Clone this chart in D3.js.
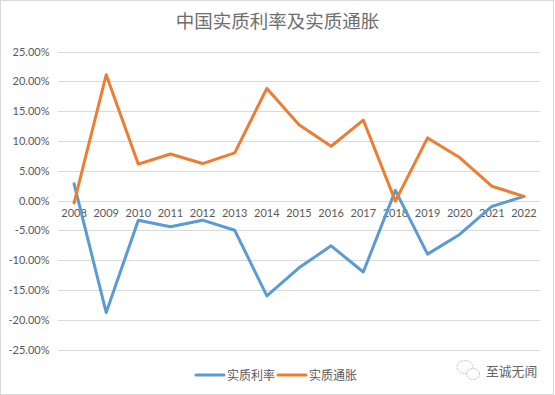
<!DOCTYPE html>
<html>
<head>
<meta charset="utf-8">
<script src="https://cdn.jsdelivr.net/npm/d3@7"></script>
<style>
  html, body { margin: 0; padding: 0; background: #fff; }
  svg { display: block; }
  text { font-family: "Noto Sans CJK SC", "Liberation Sans", sans-serif; }
  .tick-label { font-family: Lato, "Liberation Sans", sans-serif; }
</style>
</head>
<body>
<svg id="chart" width="555" height="395"></svg>
<script>
const years = ["2008", "2009", "2010", "2011", "2012", "2013", "2014", "2015", "2016", "2017", "2018", "2019", "2020", "2021", "2022"];
const realRate = [2.8, -18.8, -3.3, -4.4, -3.3, -5.0, -16.0, -11.3, -7.6, -12.0, 1.7, -9.0, -5.7, -1.0, 0.7];
const realInflation = [-0.4, 21.1, 6.1, 7.8, 6.2, 8.0, 18.8, 12.7, 9.1, 13.5, -0.1, 10.5, 7.2, 2.4, 0.7];
const yTicks = [25, 20, 15, 10, 5, 0, -5, -10, -15, -20, -25];
const seriesNames = ["实质利率", "实质通胀"];
const seriesColors = ["#5b9bd5", "#ed7d31"];

const svg = d3.select("#chart");
const width = +svg.attr("width");
const height = +svg.attr("height");

// Frame
svg.append("rect")
  .attr("x", 0.5).attr("y", 0.5)
  .attr("width", width - 2).attr("height", height - 1)
  .attr("fill", "#fff").attr("stroke", "#d9d9d9");

const xScale = d3.scaleBand().domain(years).range([58, 540]);
const yScale = d3.scaleLinear().domain([25, -25]).range([51.5, 349.5]);

// Title
svg.append("text")
  .attr("x", 277.5).attr("y", 28)
  .attr("text-anchor", "middle")
  .attr("font-size", 18.5)
  .attr("fill", "#6e6e6e")
  .text("中国实质利率及实质通胀");

// y-Axis (gridlines and labels)
const yAxis = d3.axisLeft(yScale)
  .tickValues(yTicks)
  .tickSize(-(540 - 58))
  .tickPadding(8.5)
  .tickFormat((d) => d.toFixed(2) + "%");
const yAxisG = svg.append("g").attr("transform", "translate(58,0)").call(yAxis);
yAxisG.select(".domain").remove();
yAxisG.selectAll("line")
  .attr("stroke", "#d9d9d9")
  .attr("stroke-width", 1)
  .attr("shape-rendering", "crispEdges");
yAxisG.selectAll("text")
  .attr("class", "tick-label")
  .attr("font-size", 11)
  .attr("fill", "#595959");

// x-Axis, labels sit just under the zero line
const xAxis = d3.axisBottom(xScale).tickSize(0).tickPadding(9);
const xAxisG = svg.append("g").attr("transform", `translate(0,${yScale(0)})`).call(xAxis);
xAxisG.select(".domain").remove();
xAxisG.selectAll("text")
  .attr("class", "tick-label")
  .attr("font-size", 11)
  .attr("fill", "#595959");

// Lines
const lineGenerator = d3.line()
  .x((d, i) => xScale(years[i]) + xScale.bandwidth() / 2)
  .y((d) => yScale(d));

[realRate, realInflation].forEach((values, i) => {
  svg.append("path")
    .attr("d", lineGenerator(values))
    .attr("fill", "none")
    .attr("stroke", seriesColors[i])
    .attr("stroke-width", 3)
    .attr("stroke-linecap", "round")
    .attr("stroke-linejoin", "round");
});

// Legend
const legendX = [196, 278];
seriesNames.forEach((name, i) => {
  svg.append("line")
    .attr("x1", legendX[i]).attr("x2", legendX[i] + 28)
    .attr("y1", 375).attr("y2", 375)
    .attr("stroke", seriesColors[i])
    .attr("stroke-width", 3)
    .attr("stroke-linecap", "round");
  svg.append("text")
    .attr("x", legendX[i] + 31).attr("y", 379.5)
    .attr("font-size", 12)
    .attr("fill", "#595959")
    .text(name);
});

// Watermark: WeChat-style outline icon and account name
const icon = svg.append("g")
  .attr("fill", "#fff")
  .attr("stroke", "#aaa")
  .attr("stroke-width", 0.8)
  .attr("stroke-dasharray", "1.5 1");
icon.append("ellipse").attr("cx", 465).attr("cy", 367).attr("rx", 8).attr("ry", 6.5);
icon.append("ellipse").attr("cx", 473).attr("cy", 374).attr("rx", 6.5).attr("ry", 5.5);

svg.append("text")
  .attr("x", 486).attr("y", 375.5)
  .attr("font-size", 12.8)
  .attr("fill", "#666")
  .text("至诚无闻");
</script>
</body>
</html>
